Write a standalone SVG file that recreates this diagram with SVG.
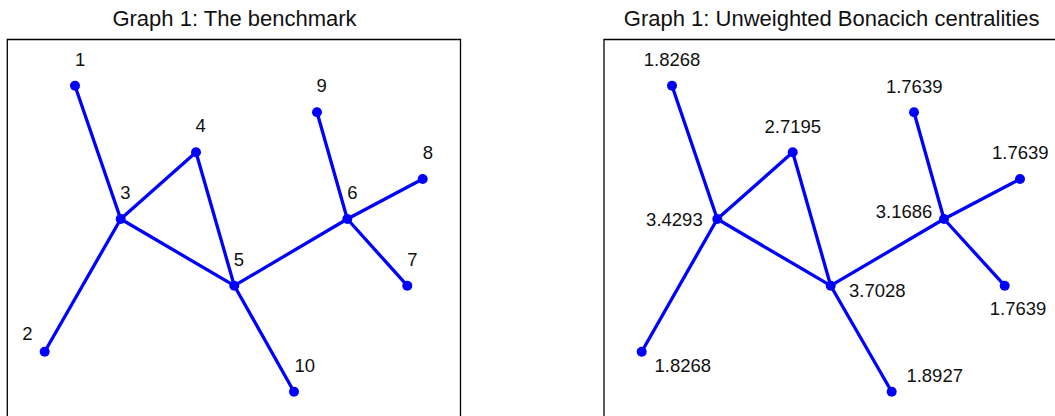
<svg xmlns="http://www.w3.org/2000/svg" width="1055" height="416" viewBox="0 0 1055 416">
<style>
.title{font-family:"Liberation Sans",Arial,sans-serif;font-size:22px;fill:#111;text-anchor:middle}
.lbl{font-family:"Liberation Sans",Arial,sans-serif;font-size:18.5px;fill:#111}
.frame{fill:none;stroke:#000;stroke-width:1.3}
.edge{stroke:#0000ff;stroke-width:3.3;stroke-linecap:round;fill:none}
.node circle{fill:#0000ff}
</style>
<rect width="1055" height="416" fill="#fff"/>
<text class="title" x="234.5" y="26">Graph 1: The benchmark</text>
<text class="title" x="831.7" y="26">Graph 1: Unweighted Bonacich centralities</text>
<path class="frame" d="M7.3,420 V39.5 H460.5 V420"/>
<path class="frame" d="M604,420 V39.5 H1060"/>

<g id="connectors-left">
<path class="edge" d="M75,85.7 L120.7,219 M44.7,351.7 L120.7,219 M120.7,219 L196,152.3 M120.7,219 L234.3,285.7 M196,152.3 L234.3,285.7 M234.3,285.7 L347.3,219 M234.3,285.7 L294,391.7 M347.3,219 L317,112.3 M347.3,219 L422.7,179 M347.3,219 L407.3,285.7"/>
</g>
<g id="connectors-right">
<path class="edge" d="M672,85.7 L717.3,219 M641.7,351.7 L717.3,219 M717.3,219 L792.7,152.3 M717.3,219 L830.7,285.7 M792.7,152.3 L830.7,285.7 M830.7,285.7 L944,219 M830.7,285.7 L891.7,391.7 M944,219 L914,112.3 M944,219 L1020,179 M944,219 L1004.7,285.7"/>
</g>

<g id="L1" class="node"><circle cx="75" cy="85.7" r="5"/><text class="lbl" x="75" y="65.7">1</text></g>
<g id="L2" class="node"><circle cx="44.7" cy="351.7" r="5"/><text class="lbl" x="22.3" y="340">2</text></g>
<g id="L3" class="node"><circle cx="120.7" cy="219" r="5"/><text class="lbl" x="120.2" y="199">3</text></g>
<g id="L4" class="node"><circle cx="196" cy="152.3" r="5"/><text class="lbl" x="195.5" y="132.3">4</text></g>
<g id="L5" class="node"><circle cx="234.3" cy="285.7" r="5"/><text class="lbl" x="233.8" y="265.7">5</text></g>
<g id="L6" class="node"><circle cx="347.3" cy="219" r="5"/><text class="lbl" x="347.3" y="199">6</text></g>
<g id="L7" class="node"><circle cx="407.3" cy="285.7" r="5"/><text class="lbl" x="407.3" y="265.7">7</text></g>
<g id="L8" class="node"><circle cx="422.7" cy="179" r="5"/><text class="lbl" x="422.7" y="159">8</text></g>
<g id="L9" class="node"><circle cx="317" cy="112.3" r="5"/><text class="lbl" x="316.5" y="92.3">9</text></g>
<g id="L10" class="node"><circle cx="294" cy="391.7" r="5"/><text class="lbl" x="294.5" y="371.7">10</text></g>

<g id="R1" class="node"><circle cx="672" cy="85.7" r="5"/><text class="lbl" x="672" y="66.3" text-anchor="middle">1.8268</text></g>
<g id="R2" class="node"><circle cx="641.7" cy="351.7" r="5"/><text class="lbl" x="682.8" y="371.7" text-anchor="middle">1.8268</text></g>
<g id="R3" class="node"><circle cx="717.3" cy="219" r="5"/><text class="lbl" x="702.7" y="225.7" text-anchor="end">3.4293</text></g>
<g id="R4" class="node"><circle cx="792.7" cy="152.3" r="5"/><text class="lbl" x="792.8" y="133.3" text-anchor="middle">2.7195</text></g>
<g id="R5" class="node"><circle cx="830.7" cy="285.7" r="5"/><text class="lbl" x="877.3" y="296.7" text-anchor="middle">3.7028</text></g>
<g id="R6" class="node"><circle cx="944" cy="219" r="5"/><text class="lbl" x="932.3" y="218.3" text-anchor="end">3.1686</text></g>
<g id="R7" class="node"><circle cx="1004.7" cy="285.7" r="5"/><text class="lbl" x="1018" y="315" text-anchor="middle">1.7639</text></g>
<g id="R8" class="node"><circle cx="1020" cy="179" r="5"/><text class="lbl" x="1020.3" y="159.3" text-anchor="middle">1.7639</text></g>
<g id="R9" class="node"><circle cx="914" cy="112.3" r="5"/><text class="lbl" x="914.2" y="93.3" text-anchor="middle">1.7639</text></g>
<g id="R10" class="node"><circle cx="891.7" cy="391.7" r="5"/><text class="lbl" x="934.7" y="381.7" text-anchor="middle">1.8927</text></g>
</svg>
